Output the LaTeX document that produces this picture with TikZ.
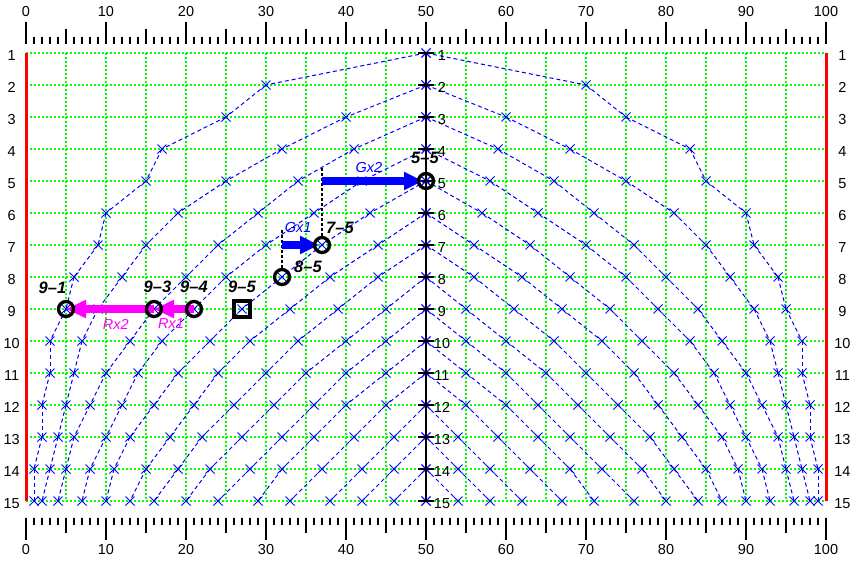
\documentclass[tikz,border=0pt]{standalone}
\usepackage{fontspec}
\setmainfont{Liberation Sans}
\usetikzlibrary{arrows.meta,calc}
\definecolor{grid-green}{RGB}{0,255,0}
\definecolor{path-blue}{RGB}{0,0,255}
\definecolor{move-magenta}{RGB}{255,0,255}
\definecolor{edge-red}{RGB}{255,0,0}
\tikzstyle{gridline}=[grid-green,line width=1.1pt,dash pattern=on 2pt off 2pt]
\tikzstyle{pathline}=[path-blue,line width=1pt,dash pattern=on 4pt off 3pt]
\tikzstyle{crossline}=[path-blue,line width=0.8pt]
\tikzstyle{ruletick}=[line width=1.3pt]
\tikzstyle{axisline}=[line width=1.6pt]
\tikzstyle{numlabel}=[inner sep=0pt,font=\fontsize{14.5}{17}\selectfont]
\tikzstyle{celllabel}=[inner sep=0pt,font=\fontsize{16.5}{19}\selectfont\bfseries\itshape]
\tikzstyle{movelabel}=[inner sep=0pt,font=\fontsize{14.5}{17}\selectfont\itshape]
\tikzstyle{ring}=[line width=3.3pt]
\tikzstyle{guide}=[line width=2.5pt,dash pattern=on 2.5pt off 2.5pt]
\tikzstyle{rmove}=[move-magenta,line width=7.5pt,-{Triangle[length=20pt,width=17pt]}]
\tikzstyle{gmove}=[path-blue,line width=7.5pt,-{Triangle[length=19pt,width=17pt]}]
\newcommand{\crossat}[1]{
  \draw[crossline] (#1) ++(-4.5pt,-4.5pt) -- ++(9pt,9pt) ++(-9pt,0pt) -- ++(9pt,-9pt);
}

\begin{document}
\begin{tikzpicture}[x=8pt,y=-32pt]
	\useasboundingbox (-3.25,-0.65625) rectangle (103.375,16.9375);
	% grid
	\foreach \r in {1,...,15}
		\draw[gridline] (0,\r) -- (100,\r);
	\foreach \u in {5,10,...,95}
		\draw[gridline] (\u,1) -- (\u,15);
	% points, left half and mirrored right half
	\foreach \r/\xs in {1/{50},2/{30,50},3/{25,40,50},4/{17,32,41,50},5/{15,25,34,42,50},
		6/{10,19,29,36,43,50},7/{9,15,24,30,37,44,50},8/{6,12,20,25,32,38,44,50},
		9/{5,9,16,21,27,33,39,45,50},10/{3,7,13,17,23,28,34,40,45,50},
		11/{3,6,10,14,19,24,30,35,40,45,50},12/{2,5,8,12,16,21,26,31,36,40,45,50},
		13/{2,4,6,10,13,18,22,27,32,36,41,46,50},14/{1,3,5,8,11,15,19,23,28,32,37,42,46,50},
		15/{1,2,4,7,10,13,16,20,24,29,33,38,42,46,50}} {
		\foreach \x [count=\k] in \xs {
			\coordinate (L\r-\k) at (\x,\r);
			\coordinate (R\r-\k) at (100-\x,\r);
		}
	}
	% paths
	\foreach \k in {1,...,14}
		\foreach \r in {\k,...,14} {
			\pgfmathtruncatemacro{\s}{\r+1}
			\draw[pathline] (L\r-\k) -- (L\s-\k);
			\draw[pathline] (R\r-\k) -- (R\s-\k);
		}
	\foreach \r in {1,...,15}
		\foreach \k in {1,...,\r} {
			\crossat{L\r-\k}
			\crossat{R\r-\k}
		}
	% edges and centre axis
	\draw[edge-red,line width=3pt] (0,1) -- (0,15);
	\draw[edge-red,line width=3pt] (100,1) -- (100,15);
	\draw[axisline] (50,1) -- (50,15);
	\foreach \r in {1,...,15} {
		\draw[axisline] (49,\r) -- (51,\r);
		\node[numlabel] (crow\r) at (52,\r+0.08) {\r};
		\node[numlabel] (lrow\r) at (-1.8,\r+0.078) {\r};
		\node[numlabel] (rrow\r) at (102.05,\r+0.078) {\r};
	}
	% rulers
	\foreach \u in {0,...,100} {
		\draw[ruletick] (\u,0.71875) -- ++(0pt,7pt);
		\draw[ruletick] (\u,15.52) -- ++(0pt,-7pt);
	}
	\foreach \u in {5,15,...,95} {
		\draw[ruletick] (\u,0.71875) -- ++(0pt,15pt);
		\draw[ruletick] (\u,15.52) -- ++(0pt,-15pt);
	}
	\foreach \u in {0,10,...,100} {
		\draw[ruletick] (\u,0.71875) -- ++(0pt,22pt);
		\draw[ruletick] (\u,15.52) -- ++(0pt,-22pt);
		\node[numlabel] (top\u) at (\u,-0.28125) {\u};
		\node[numlabel] (bot\u) at (\u,16.53) {\u};
	}
	% guides
	\coordinate (g1) at (L8-5 |- L7-5);
	\coordinate (g1top) at ($(g1)+(0pt,15pt)$);
	\coordinate (g2) at (L7-5 |- L5-5);
	\coordinate (g2top) at ($(g2)+(0pt,14pt)$);
	\draw[guide,shorten <=9.5pt] (L8-5) -- (g1top);
	\draw[guide,shorten <=9.5pt] (L7-5) -- (g2top);
	% moves
	\draw[rmove] (L9-3) -- (L9-1);
	\draw[rmove] (L9-4) -- (L9-3);
	\draw[gmove,shorten >=3pt] (g1) -- (L7-5);
	\draw[gmove,shorten >=3pt] (g2) -- (L5-5);
	\node[movelabel,move-magenta] (rx2) at ($(L9-3)!0.5!(L9-1)+(5.7pt,-15pt)$) {Rx2};
	\node[movelabel,move-magenta] (rx1) at ($(L9-4)!0.5!(L9-3)+(-3pt,-15pt)$) {Rx1};
	\node[movelabel,path-blue] (gx1) at ($(g1)!0.5!(L7-5)+(-3.8pt,17pt)$) {Gx1};
	\node[movelabel,path-blue] (gx2) at ($(g2)!0.5!(L5-5)+(-5pt,13pt)$) {Gx2};
	% marked cells
	\foreach \c in {9-1,9-3,9-4,8-5,7-5,5-5}
		\draw[ring] (L\c) circle (7.5pt);
	\draw[ring] ($(L9-5)+(-8pt,-8pt)$) rectangle ($(L9-5)+(8pt,8pt)$);
	\node[celllabel] (n9-1) at ($(L9-1)+(-13.5pt,21.5pt)$) {9--1};
	\node[celllabel] (n9-3) at ($(L9-3)+(3.5pt,22pt)$) {9--3};
	\node[celllabel] (n9-4) at ($(L9-4)+(0pt,22pt)$) {9--4};
	\node[celllabel] (n9-5) at ($(L9-5)+(0pt,22pt)$) {9--5};
	\node[celllabel] (n8-5) at ($(L8-5)+(26pt,10pt)$) {8--5};
	\node[celllabel] (n7-5) at ($(L7-5)+(18pt,17pt)$) {7--5};
	\node[celllabel] (n5-5) at ($(L5-5)+(-1pt,23pt)$) {5--5};
\end{tikzpicture}
\end{document}
